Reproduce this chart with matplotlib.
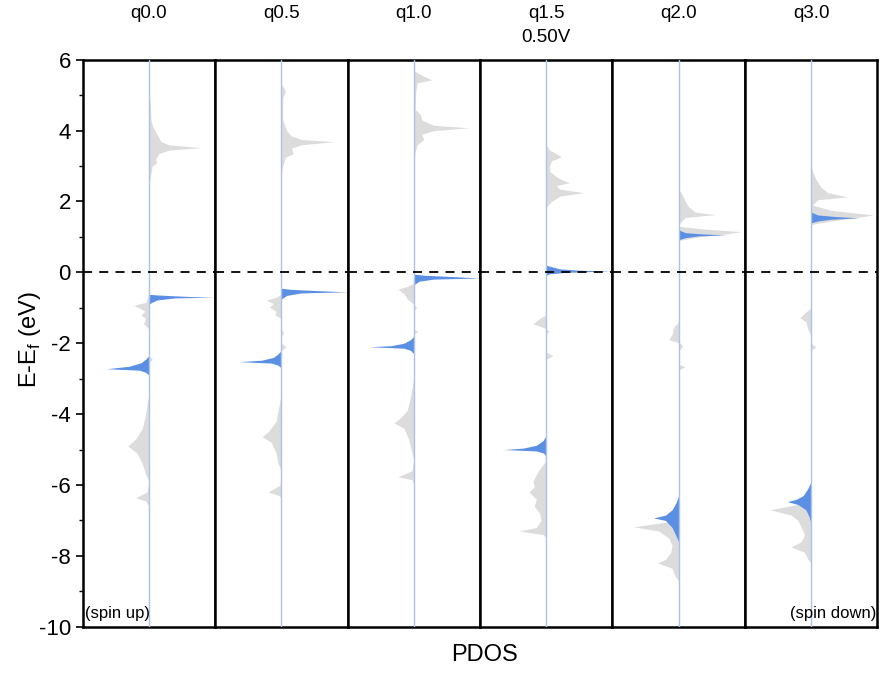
import numpy as np
import matplotlib.pyplot as plt

plt.rcParams['font.family'] = ['Liberation Sans', 'DejaVu Sans']
plt.rcParams['axes.unicode_minus'] = False

# panel titles
labels = ['q0.0', 'q0.5', 'q1.0', 'q1.5', 'q2.0', 'q3.0']

# PDOS as (energy, value) knots, value < 0 drawn to the left
gray_q00 = [(5.0, 0), (4.8, 0.02), (4.3, 0.03), (4.1, 0.06), (3.9, 0.12), (3.69, 0.18), (3.6, 0.3), (3.52, 0.78),
            (3.45, 0.3), (3.35, 0.15), (3.2, 0.1), (3.1, 0.12), (3.0, 0.05), (2.8, 0.03), (2.5, 0),
            (-0.6, 0), (-0.85, -0.05), (-0.93, -0.23), (-1.0, -0.15), (-1.1, -0.06), (-1.2, -0.12), (-1.3, -0.05),
            (-1.45, -0.08), (-1.6, 0), (-2.35, 0), (-2.45, 0.05), (-2.55, 0), (-3.5, 0), (-3.6, -0.02), (-4.0, -0.05),
            (-4.4, -0.1), (-4.7, -0.2), (-4.9, -0.32), (-5.1, -0.18), (-5.4, -0.1), (-5.7, -0.05), (-5.9, 0),
            (-6.2, -0.03), (-6.36, -0.2), (-6.45, -0.05), (-6.6, 0)]
blue_q00 = [(-0.62, 0), (-0.64, 0.15), (-0.68, 0.6), (-0.7, 0.98), (-0.72, 0.4), (-0.78, 0.12), (-0.85, 0.04), (-0.9, 0),
            (-2.35, 0), (-2.45, -0.05), (-2.55, -0.12), (-2.65, -0.3), (-2.72, -0.64), (-2.76, -0.15), (-2.82, -0.05), (-2.9, 0)]

gray_q05 = [(5.3, 0), (5.2, 0.04), (5.1, 0.06), (4.9, 0.02), (4.3, 0.02), (4.0, 0.08), (3.85, 0.15), (3.75, 0.3),
            (3.69, 0.8), (3.6, 0.3), (3.5, 0.15), (3.35, 0.18), (3.25, 0.06), (3.0, 0.02), (2.8, 0),
            (-0.62, 0), (-0.72, -0.1), (-0.78, -0.23), (-0.88, -0.12), (-0.98, -0.18), (-1.1, -0.08), (-1.2, -0.1),
            (-1.3, 0), (-1.6, 0), (-1.7, 0.03), (-1.8, 0), (-2.0, 0), (-2.1, 0.07), (-2.2, 0),
            (-3.4, 0), (-3.8, -0.04), (-4.2, -0.08), (-4.5, -0.2), (-4.64, -0.29), (-4.8, -0.15), (-5.1, -0.08),
            (-5.4, -0.05), (-5.6, 0), (-6.0, -0.02), (-6.2, -0.2), (-6.3, -0.03), (-6.4, 0)]
blue_q05 = [(-0.45, 0), (-0.48, 0.15), (-0.52, 0.6), (-0.55, 0.99), (-0.58, 0.3), (-0.65, 0.08), (-0.75, 0),
            (-2.2, 0), (-2.3, -0.05), (-2.4, -0.12), (-2.48, -0.3), (-2.52, -0.64), (-2.56, -0.15), (-2.62, -0.05), (-2.7, 0)]

gray_q10 = [(5.7, 0), (5.6, 0.08), (5.43, 0.27), (5.35, 0.05), (5.1, 0.03), (4.6, 0.02), (4.45, 0.1), (4.3, 0.12),
            (4.15, 0.3), (4.08, 0.83), (4.0, 0.3), (3.9, 0.12), (3.75, 0.15), (3.6, 0.05), (3.4, 0.02), (3.0, 0),
            (-0.3, 0), (-0.4, -0.1), (-0.47, -0.24), (-0.6, -0.15), (-0.75, -0.1), (-0.9, 0), (-1.0, 0.04), (-1.1, 0),
            (-1.6, 0), (-1.67, 0.06), (-1.75, 0), (-3.0, 0), (-3.5, -0.05), (-3.9, -0.1), (-4.1, -0.2), (-4.25, -0.3),
            (-4.4, -0.15), (-4.7, -0.08), (-5.0, -0.04), (-5.3, 0), (-5.6, -0.03), (-5.77, -0.24), (-5.85, -0.03), (-6.0, 0)]
blue_q10 = [(-0.05, 0), (-0.08, 0.15), (-0.12, 0.6), (-0.16, 0.99), (-0.19, 0.3), (-0.25, 0.08), (-0.35, 0),
            (-1.8, 0), (-1.9, -0.05), (-2.0, -0.15), (-2.07, -0.35), (-2.1, -0.67), (-2.14, -0.15), (-2.2, -0.05), (-2.3, 0)]

gray_q15 = [(3.6, 0), (3.45, 0.05), (3.35, 0.15), (3.26, 0.23), (3.15, 0.08), (3.0, 0.05), (2.85, 0.05), (2.7, 0.15),
            (2.6, 0.25), (2.53, 0.35), (2.45, 0.15), (2.35, 0.2), (2.25, 0.56), (2.15, 0.2), (2.0, 0.08), (1.85, 0),
            (-1.2, 0), (-1.3, -0.1), (-1.45, -0.2), (-1.55, -0.05), (-1.65, 0.04), (-1.75, 0), (-2.25, 0), (-2.35, 0.1),
            (-2.45, 0), (-5.3, 0), (-5.5, -0.08), (-5.7, -0.15), (-5.9, -0.2), (-6.05, -0.18), (-6.2, -0.26),
            (-6.4, -0.15), (-6.6, -0.18), (-6.8, -0.1), (-7.0, -0.08), (-7.2, -0.15), (-7.3, -0.41), (-7.4, -0.05), (-7.5, 0)]
blue_q15 = [(0.2, 0), (0.16, 0.08), (0.1, 0.2), (0.06, 0.5), (0.04, 0.99), (0.0, 0.3), (-0.04, 0.05), (-0.08, 0),
            (-4.6, 0), (-4.75, -0.05), (-4.88, -0.15), (-4.96, -0.35), (-5.0, -0.64), (-5.04, -0.15), (-5.1, -0.04), (-5.2, 0)]

gray_q20 = [(2.35, 0), (2.2, 0.05), (2.0, 0.1), (1.85, 0.15), (1.7, 0.25), (1.63, 0.55), (1.55, 0.1), (1.4, 0.02),
            (1.3, 0), (1.22, 0.4), (1.15, 0.94), (1.08, 0.7), (1.0, 0.3), (0.9, 0),
            (-1.4, 0), (-1.55, -0.08), (-1.75, -0.1), (-1.9, -0.15), (-2.0, 0.03), (-2.1, 0.06), (-2.2, 0),
            (-2.6, 0), (-2.66, 0.1), (-2.75, 0), (-6.9, 0), (-7.05, -0.2), (-7.18, -0.68), (-7.3, -0.3),
            (-7.5, -0.15), (-7.7, -0.1), (-7.9, -0.12), (-8.1, -0.2), (-8.2, -0.32), (-8.35, -0.1), (-8.6, -0.05), (-8.7, 0)]
blue_q20 = [(1.2, 0), (1.12, 0.1), (1.08, 0.4), (1.06, 0.71), (1.03, 0.3), (0.98, 0.1), (0.92, 0),
            (-6.3, 0), (-6.5, -0.04), (-6.7, -0.1), (-6.85, -0.2), (-6.93, -0.38), (-7.0, -0.2), (-7.2, -0.1),
            (-7.4, -0.05), (-7.6, 0)]

gray_q30 = [(3.0, 0), (2.8, 0.03), (2.6, 0.08), (2.4, 0.15), (2.25, 0.25), (2.13, 0.55), (2.05, 0.1), (1.9, 0.02),
            (1.75, 0.3), (1.62, 0.94), (1.55, 0.7), (1.45, 0.3), (1.35, 0),
            (-1.0, 0), (-1.15, -0.1), (-1.28, -0.17), (-1.4, -0.08), (-1.6, -0.05), (-1.8, 0), (-2.0, 0),
            (-2.1, 0.07), (-2.2, 0), (-6.4, 0), (-6.55, -0.2), (-6.7, -0.62), (-6.85, -0.3), (-7.0, -0.2),
            (-7.2, -0.15), (-7.4, -0.1), (-7.6, -0.15), (-7.75, -0.3), (-7.9, -0.1), (-8.1, -0.05), (-8.2, 0)]
blue_q30 = [(1.7, 0), (1.62, 0.1), (1.57, 0.4), (1.54, 0.71), (1.5, 0.3), (1.45, 0.1), (1.4, 0),
            (-5.9, 0), (-6.1, -0.05), (-6.3, -0.12), (-6.4, -0.22), (-6.47, -0.36), (-6.55, -0.2), (-6.7, -0.08),
            (-6.9, -0.03), (-7.1, 0)]

grays = [gray_q00, gray_q05, gray_q10, gray_q15, gray_q20, gray_q30]
blues = [blue_q00, blue_q05, blue_q10, blue_q15, blue_q20, blue_q30]

fig, axes = plt.subplots(1, 6, sharey=True, figsize=(8.8, 6.79), dpi=100)
fig.subplots_adjust(left=0.094, right=0.997, top=0.912, bottom=0.077, wspace=0)

for i, ax in enumerate(axes):
    g = np.array(sorted(grays[i]))
    b = np.array(sorted(blues[i]))
    ax.fill_betweenx(g[:, 0], 0, g[:, 1], color='#dcdcdc', lw=0, zorder=1)
    ax.fill_betweenx(b[:, 0], 0, b[:, 1], color='#5b8fe3', lw=0, zorder=2)
    ax.axvline(0, color='#a9c3ee', lw=1, zorder=3)
    ax.axhline(0, color='black', lw=1.3, ls=(0, (5, 4)), zorder=4)
    ax.set_xlim(-1, 1)
    ax.set_ylim(-10, 6)
    ax.set_xticks([])
    for s in ax.spines.values():
        s.set_linewidth(1.8)
    ax.set_title(labels[i], fontsize=13.5, pad=30)

axes[3].text(0.5, 1.04, '0.50V', transform=axes[3].transAxes, ha='center', va='center', fontsize=13.5)

ax0 = axes[0]
ax0.set_yticks(np.arange(-10, 7, 2))
ax0.set_yticks(np.arange(-10, 7, 1), minor=True)
ax0.tick_params(axis='y', which='major', direction='out', length=5, width=1.2, labelsize=16)
ax0.tick_params(axis='y', which='minor', direction='out', length=3, width=1.0)
for ax in axes[1:]:
    ax.tick_params(axis='y', which='both', left=False)

ax0.text(0.02, 0.01, '(spin up)', transform=ax0.transAxes, ha='left', va='bottom', fontsize=12)
axes[-1].text(0.99, 0.01, '(spin down)', transform=axes[-1].transAxes, ha='right', va='bottom', fontsize=12)

fig.text(0.034, 0.5, 'E-E$_\\mathregular{f}$ (eV)', rotation=90, ha='center', va='center', fontsize=17)
fig.text(0.551, 0.035, 'PDOS', ha='center', va='center', fontsize=17)

fig.savefig('out.png', dpi=100)
